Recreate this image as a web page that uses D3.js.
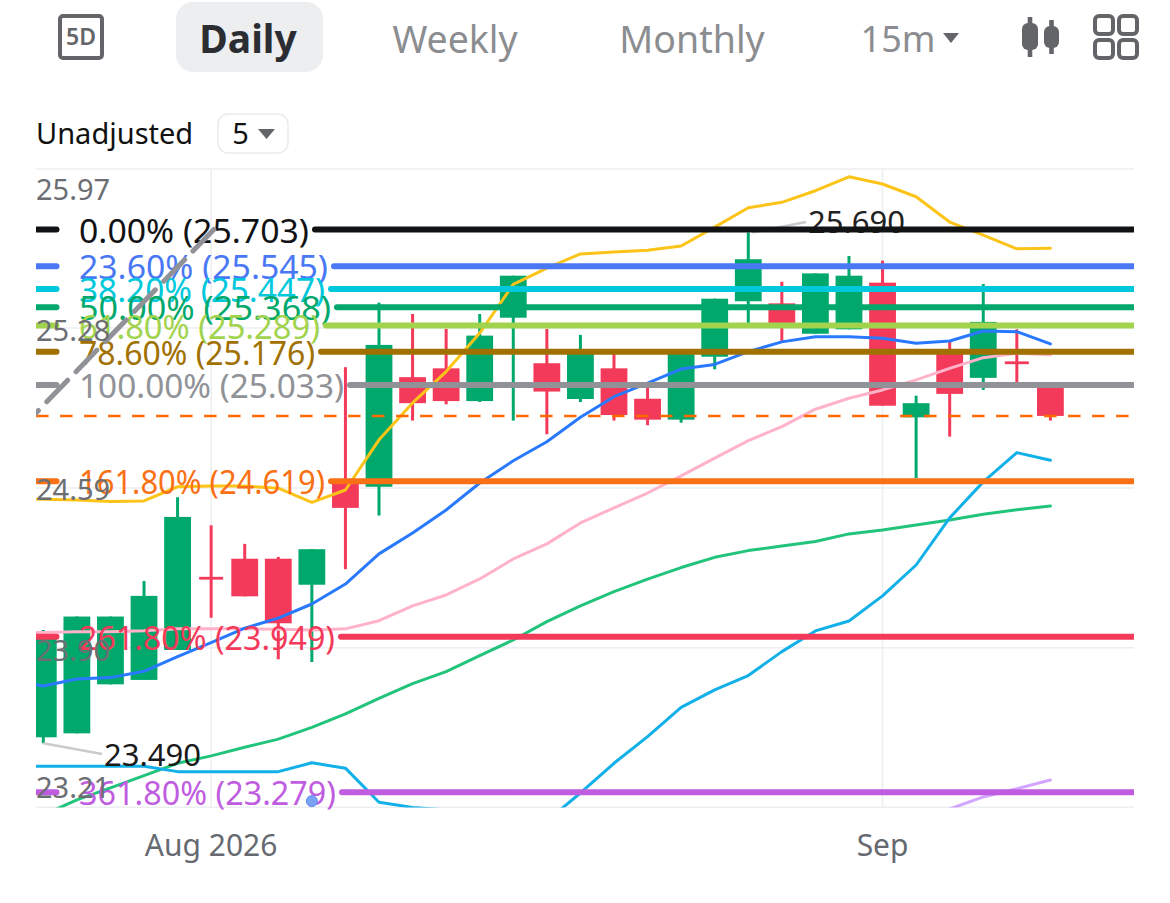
<!DOCTYPE html>
<html><head><meta charset="utf-8">
<script src="https://cdn.jsdelivr.net/npm/d3@7"></script>
<style>html,body{margin:0;padding:0;background:#fff}svg{display:block}</style>
</head><body><svg id="c" width="1170" height="903"></svg>
<script>
const FONT = '"Noto Sans", "Open Sans", sans-serif';
const upColor = '#00a86b', downColor = '#f43a5a';
// candles: open, high, low, close (price)
const opens  = [23.516,23.533,23.744,23.763,23.892,24.207,24.285,24.285,24.173,24.616,24.595,25.067,25.105,24.964,25.323,25.127,24.973,25.105,24.974,24.884,25.155,25.394,25.385,25.254,25.273,25.474,24.894,25.167,25.064,25.135,25.033];
const highs  = [23.978,24.036,24.036,24.189,24.550,24.429,24.349,24.293,24.326,25.110,25.388,25.339,25.275,25.339,25.504,25.275,25.249,25.167,25.026,25.167,25.405,25.690,25.478,25.514,25.589,25.569,24.987,25.227,25.468,25.273,25.033];
const lows   = [23.490,23.533,23.744,23.763,23.892,24.031,24.123,23.852,23.840,24.240,24.471,24.880,24.950,24.960,24.880,24.821,24.960,24.880,24.860,24.871,25.101,25.299,25.219,25.254,25.273,24.944,24.632,24.811,25.012,25.043,24.880];
const closes = [23.949,24.036,24.036,24.125,24.465,24.195,24.123,24.007,24.326,24.504,25.206,24.955,24.964,25.246,25.504,25.005,25.167,24.904,24.884,25.167,25.405,25.575,25.299,25.514,25.504,24.944,24.955,24.995,25.305,25.123,24.900];
// moving averages: first value belongs to the bar just left of the visible window
const maYellow = [24.541,24.541,24.538,24.531,24.534,24.595,24.598,24.598,24.589,24.528,24.581,24.797,24.956,25.091,25.257,25.467,25.537,25.598,25.606,25.614,25.632,25.713,25.797,25.820,25.870,25.930,25.899,25.844,25.735,25.679,25.620,25.622];
const maBlue = [23.760,23.737,23.767,23.773,23.800,23.863,23.924,23.986,24.029,24.090,24.176,24.306,24.396,24.495,24.611,24.707,24.789,24.894,24.983,25.041,25.102,25.122,25.177,25.219,25.241,25.241,25.235,25.213,25.223,25.266,25.263,25.210];
const maPink = [23.967,23.967,23.971,23.971,23.975,23.983,23.983,23.983,23.981,23.978,23.983,24.018,24.082,24.129,24.198,24.284,24.349,24.439,24.504,24.568,24.642,24.718,24.794,24.854,24.929,24.976,25.012,25.055,25.105,25.151,25.170,25.163];
const maGreen = [23.120,23.182,23.246,23.298,23.351,23.404,23.436,23.473,23.508,23.559,23.617,23.684,23.747,23.799,23.868,23.935,24.014,24.082,24.143,24.197,24.247,24.291,24.320,24.340,24.359,24.392,24.409,24.430,24.452,24.477,24.496,24.512];
const maCyan = [23.391,23.391,23.391,23.391,23.391,23.368,23.368,23.368,23.368,23.406,23.383,23.236,23.214,23.203,23.194,23.177,23.156,23.276,23.404,23.519,23.645,23.720,23.782,23.885,23.974,24.017,24.125,24.258,24.461,24.616,24.742,24.709];
const maPurple = [null,null,null,null,null,null,null,null,null,null,null,null,null,null,null,null,null,null,null,null,null,null,null,null,null,null,null,null,23.207,23.259,23.294,23.332];
// fibonacci levels
const fibPercents = ['0.00%','23.60%','38.20%','50.00%','61.80%','78.60%','100.00%','161.80%','261.80%','361.80%'];
const fibValues = [25.703,25.545,25.447,25.368,25.289,25.176,25.033,24.619,23.949,23.279];
const fibColors = ['#111214','#4a78f5','#00c8dc','#00a86b','#a2d34f','#a07000','#909297','#fa7014','#f43a5a','#c05ce0'];
// axis ticks
const yTickValues = [25.9635,25.279,24.590,23.902,23.215];
const yTickLabels = ['25.97','25.28','24.59','23.90','23.21'];
const yLabelShift = [21,3,2,3,-20];
const xTickIndex = [5,25];
const xTickLabels = ['Aug 2026','Sep'];
const lastPrice = 24.900;
const maxIdx = 21, maxVal = 25.690, minIdx = 0, minVal = 23.490;
const trendIdx = [5.08,-0.217], trendVal = [25.703,24.913];
const maSeries = [[maGreen,'#22c47c'],[maPurple,'#d2a6ff'],[maCyan,'#12b0e8'],[maPink,'#ffb3c9'],[maBlue,'#2979ff'],[maYellow,'#fcc419']];

const L=36,R=1134,T=169,B=807.5;
const fibTextWidth = [230,249,246,252,241,236,265,246,256,257];
const svg = d3.select('#c');
svg.style('font-family',FONT);
const x = d3.scaleLinear().domain([0,30]).range([43.3,1050.4]);
const y = d3.scaleLinear().domain([25.703,23.279]).range([229.5,792.3]);
const defs = svg.append('defs');
defs.append('clipPath').attr('id','plot').append('rect').attr('x',L).attr('y',T).attr('width',R-L).attr('height',B-T);
defs.append('clipPath').attr('id','wide').append('rect').attr('x',L).attr('y',T).attr('width',R-L).attr('height',B-T+4);

// toolbar
const gray='#636569';
const bar = svg.append('g');
bar.append('rect').attr('x',60).attr('y',16).attr('width',42).attr('height',42).attr('rx',3).attr('fill','none').attr('stroke',gray).attr('stroke-width',4);
bar.append('text').attr('x',81).attr('y',45).attr('text-anchor','middle').attr('font-size',23).attr('font-weight',600).attr('fill',gray).text('5D');
bar.append('rect').attr('x',176).attr('y',2).attr('width',147).attr('height',70).attr('rx',17).attr('fill','#eceef0');
bar.append('text').attr('x',248).attr('y',53).attr('text-anchor','middle').attr('font-size',39).attr('font-weight',700).attr('fill','#2b2d33').text('Daily');
bar.append('text').attr('x',455).attr('y',53).attr('text-anchor','middle').attr('font-size',37.5).attr('fill','#8b8d90').text('Weekly');
bar.append('text').attr('x',692).attr('y',53).attr('text-anchor','middle').attr('font-size',37.5).attr('fill','#8b8d90').text('Monthly');
bar.append('text').attr('x',898).attr('y',52).attr('text-anchor','middle').attr('font-size',36).attr('fill','#8b8d90').text('15m');
bar.append('path').attr('d','M943 33h16l-8 10z').attr('fill',gray);
[[1030,17,40,23,27,16],[1051.5,20,34,26,22,15]].forEach(([cx,wy,wh,by,bh,bw])=>{
  bar.append('rect').attr('x',cx-2.3).attr('y',wy).attr('width',4.6).attr('height',wh).attr('fill',gray);
  bar.append('rect').attr('x',cx-bw/2).attr('y',by).attr('width',bw).attr('height',bh).attr('rx',6).attr('fill',gray);
});
[[1095,16],[1119,16],[1095,40],[1119,40]].forEach(([gx,gy])=>{
  bar.append('rect').attr('x',gx).attr('y',gy).attr('width',18).attr('height',18).attr('rx',4).attr('fill','none').attr('stroke',gray).attr('stroke-width',4);
});
svg.append('text').attr('x',36).attr('y',144).attr('font-size',29).attr('fill','#111').text('Unadjusted');
svg.append('rect').attr('x',218).attr('y',114).attr('width',70).attr('height',39).attr('rx',10).attr('fill','#fff').attr('stroke','#ebebeb').attr('stroke-width',1.5);
svg.append('text').attr('x',240.5).attr('y',144).attr('text-anchor','middle').attr('font-size',29).attr('fill','#111').text('5');
svg.append('path').attr('d','M258 129h17l-8.5 10z').attr('fill',gray);

// grid
const grid = svg.append('g').attr('stroke','#eceef0');
grid.selectAll('line.h').data(yTickValues).join('line').attr('x1',L).attr('x2',R).attr('y1',d=>y(d)).attr('y2',d=>y(d)).attr('stroke-width',1.5);
grid.selectAll('line.v').data(xTickIndex).join('line').attr('x1',d=>x(d)).attr('x2',d=>x(d)).attr('y1',T).attr('y2',B).attr('stroke-width',1.5);

const plot = svg.append('g').attr('clip-path','url(#plot)');
// callouts under the fib lines
const callG = svg.append('g');
callG.append('line').attr('x1',x(maxIdx)+4).attr('y1',y(maxVal)).attr('x2',806).attr('y2',222).attr('stroke','#c9cbce').attr('stroke-width',2.5);
callG.append('text').attr('x',808).attr('y',222).attr('dy','0.36em').attr('font-size',31).attr('fill','#222').text(d3.format('.3f')(maxVal));
callG.append('line').attr('x1',x(minIdx)).attr('y1',y(minVal)).attr('x2',102).attr('y2',754).attr('stroke','#c9cbce').attr('stroke-width',2.5);
callG.append('text').attr('x',104).attr('y',755).attr('dy','0.36em').attr('font-size',31).attr('fill','#1a1a1a').text(d3.format('.3f')(minVal));

// candles
const idx = d3.range(opens.length);
const col = i => closes[i]>=opens[i]?upColor:downColor;
plot.selectAll('line.w').data(idx).join('line').attr('x1',x).attr('x2',x).attr('y1',i=>y(highs[i])).attr('y2',i=>y(lows[i])).attr('stroke',col).attr('stroke-width',3);
plot.selectAll('rect.b').data(idx).join('rect')
  .attr('x',i=>x(i)-(Math.abs(opens[i]-closes[i])<0.02?12:13.4))
  .attr('width',i=>Math.abs(opens[i]-closes[i])<0.02?24:26.8)
  .attr('y',i=>y(Math.max(opens[i],closes[i])))
  .attr('height',i=>y(Math.min(opens[i],closes[i]))-y(Math.max(opens[i],closes[i])))
  .attr('fill',col);

// MAs
const lineGen = d3.line().defined(d=>d[1]!=null).x(d=>x(d[0])).y(d=>y(d[1]));
maSeries.forEach(([vals,c])=>{
  plot.append('path').attr('d',lineGen(vals.map((v,i)=>[i-1,v]))).attr('fill','none').attr('stroke',c).attr('stroke-width',3).attr('stroke-linejoin','round').attr('stroke-linecap','round');
});

// last price dashed
plot.append('line').attr('x1',L).attr('x2',R).attr('y1',y(lastPrice)).attr('y2',y(lastPrice)).attr('stroke','#ff6a00').attr('stroke-width',2.5).attr('stroke-dasharray','12.5 11.5');

// fib
const fibG = svg.append('g');
const fibClip = svg.append('g').attr('clip-path','url(#wide)');
fibValues.forEach((v,i)=>{
  const yy=y(v), w=fibTextWidth[i];
  fibG.append('text').attr('x',79).attr('y',yy+1).attr('dy','0.36em').attr('font-size',33.5).attr('textLength',w).attr('lengthAdjust','spacingAndGlyphs').attr('fill',fibColors[i]).text(`${fibPercents[i]} (${v.toFixed(3)})`);
  fibClip.append('line').attr('x1',30).attr('x2',56.5).attr('y1',yy).attr('y2',yy).attr('stroke',fibColors[i]).attr('stroke-width',6).attr('stroke-linecap','round');
  fibClip.append('line').attr('x1',79+w+6).attr('x2',R+5).attr('y1',yy).attr('y2',yy).attr('stroke',fibColors[i]).attr('stroke-width',6).attr('stroke-linecap','round');
});
// trend line
fibClip.append('line').attr('x1',x(trendIdx[0])).attr('y1',y(trendVal[0])).attr('x2',x(trendIdx[1])).attr('y2',y(trendVal[1])).attr('stroke','#909297').attr('stroke-width',5).attr('stroke-linecap','round').attr('stroke-dasharray','30 12');

// selection dot
svg.append('circle').attr('cx',x(8)).attr('cy',y(23.241)).attr('r',5.5).attr('fill','#7aa3f5').attr('stroke','#5d8cf0').attr('stroke-width',1);

// axis labels
svg.selectAll('text.yl').data(yTickValues).join('text').attr('x',36).attr('y',(d,i)=>y(d)+yLabelShift[i]).attr('dy','0.36em').attr('font-size',29).attr('fill','#6b6e73').text((d,i)=>yTickLabels[i]);
svg.selectAll('text.xl').data(xTickIndex).join('text').attr('x',d=>x(d)).attr('y',845).attr('dy','0.36em').attr('text-anchor','middle').attr('font-size',30).attr('fill','#666a70').text((d,i)=>xTickLabels[i]);
</script></body></html>
